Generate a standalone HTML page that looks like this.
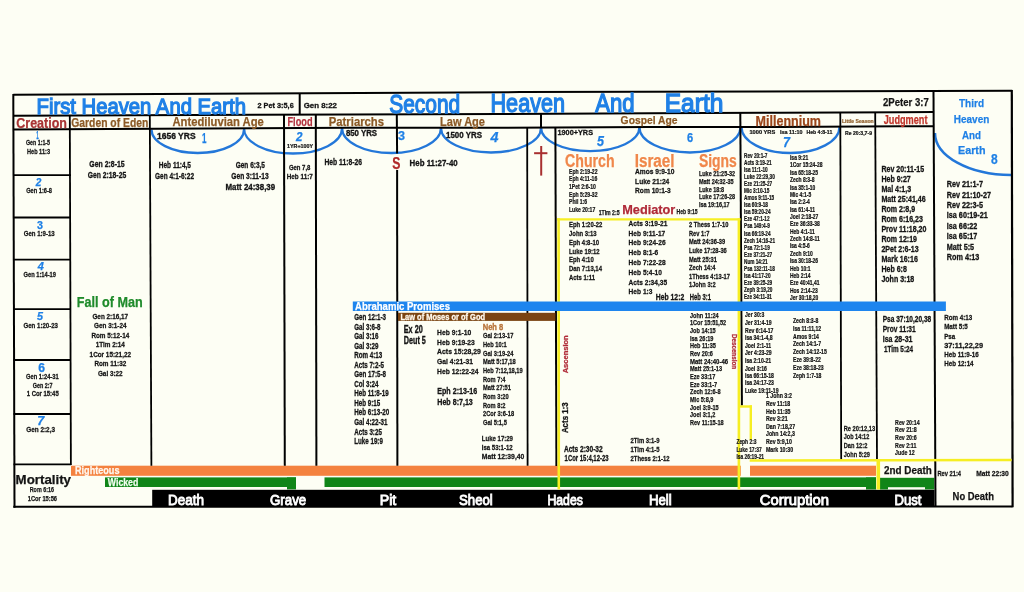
<!DOCTYPE html>
<html><head><meta charset="utf-8"><title>Heaven and Earth Chart</title>
<style>
html,body{margin:0;padding:0;background:#fdfef4;}
body{width:1024px;height:592px;overflow:hidden;}
svg{display:block;will-change:transform;}
svg text{font-family:"Liberation Sans",Arial,sans-serif;font-weight:bold;}
</style></head><body>
<svg width="1024" height="592" viewBox="0 0 1024 592">
<rect width="1024" height="592" fill="#fdfef4"/>
<rect x="71" y="465.7" width="669.8" height="10.1" fill="#f4823f"/>
<rect x="750" y="465.7" width="126" height="10.1" fill="#f4823f"/>
<rect x="105" y="477.4" width="191" height="9.6" fill="#108518"/>
<rect x="287" y="477.4" width="9" height="12" fill="#108518"/>
<rect x="324.5" y="477.4" width="551.5" height="9.6" fill="#108518"/>
<rect x="866" y="477.4" width="10" height="12.1" fill="#108518"/>
<rect x="880" y="477.8" width="54.3" height="11.7" fill="#108518"/>
<rect x="888" y="487.2" width="37" height="2.4" fill="#fdfef4"/>
<rect x="152.2" y="489.8" width="782.3" height="17.2" fill="#000"/>
<path d="M151.5,129.5 A46.25,23.5 0 0 0 244,129.5" fill="none" stroke="#2377d9" stroke-width="2.3"/>
<path d="M244,128.5 A49,25 0 0 0 342,128.5" fill="none" stroke="#2377d9" stroke-width="2.3"/>
<path d="M342,128 A49.5,25 0 0 0 441,128" fill="none" stroke="#2377d9" stroke-width="2.3"/>
<path d="M441,128 A50,24.5 0 0 0 541,128" fill="none" stroke="#2377d9" stroke-width="2.3"/>
<path d="M541,127.6 A49.2,23.6 0 0 0 639.4,127.6" fill="none" stroke="#2377d9" stroke-width="2.3"/>
<path d="M639.4,127.2 A50.55,25.3 0 0 0 740.5,127.2" fill="none" stroke="#2377d9" stroke-width="2.3"/>
<path d="M741.5,127 A49,26 0 0 0 839.5,127" fill="none" stroke="#2377d9" stroke-width="2.3"/>
<path d="M935,133 A76,42 0 0 0 1011,175" fill="none" stroke="#2377d9" stroke-width="2.5"/>
<polyline points="13.3,94.8 260,93.4 520,92.1 1012.2,90.8" fill="none" stroke="#000" stroke-width="2"/>
<line x1="13.3" y1="93.9" x2="14.5" y2="507.7" stroke="#000" stroke-width="2"/>
<line x1="1011.8" y1="89.9" x2="1012.6" y2="507.3" stroke="#000" stroke-width="2.2"/>
<line x1="13.3" y1="506.8" x2="1012.6" y2="506.5" stroke="#000" stroke-width="2"/>
<polyline points="13,115.8 350,114.4 500,114 650,113.2 780,112.8 900,112.2 934,112.1" fill="none" stroke="#000" stroke-width="2"/>
<polyline points="13,129.5 350,127.7 500,127.8 650,127 780,126.9 900,126.3 934,126.2" fill="none" stroke="#000" stroke-width="2"/>
<line x1="299.7" y1="93.4" x2="299.7" y2="114.4" stroke="#000" stroke-width="2"/>
<line x1="933.5" y1="90.8" x2="935.5" y2="507" stroke="#000" stroke-width="2"/>
<line x1="69.8" y1="115.8" x2="70.9" y2="465" stroke="#000" stroke-width="1.8"/>
<line x1="13.5" y1="175.1" x2="71" y2="175.1" stroke="#000" stroke-width="1.8"/>
<line x1="13.5" y1="217.5" x2="71" y2="217.5" stroke="#000" stroke-width="1.8"/>
<line x1="13.5" y1="259.7" x2="71" y2="259.7" stroke="#000" stroke-width="1.8"/>
<line x1="13.5" y1="309.1" x2="71" y2="309.1" stroke="#000" stroke-width="1.8"/>
<line x1="13.5" y1="360" x2="71" y2="360" stroke="#000" stroke-width="1.8"/>
<line x1="13.5" y1="414" x2="71" y2="414" stroke="#000" stroke-width="1.8"/>
<line x1="13.5" y1="464.4" x2="71" y2="464.4" stroke="#000" stroke-width="1.8"/>
<line x1="149.8" y1="115" x2="151.4" y2="465.7" stroke="#000" stroke-width="1.8"/>
<line x1="284" y1="114.4" x2="284.8" y2="465.7" stroke="#000" stroke-width="2"/>
<line x1="315.8" y1="114.4" x2="316.4" y2="465.7" stroke="#000" stroke-width="2"/>
<line x1="396.8" y1="114.2" x2="397.1" y2="153.5" stroke="#000" stroke-width="2"/>
<line x1="397.1" y1="170" x2="397.4" y2="465.7" stroke="#000" stroke-width="2"/>
<line x1="541" y1="114" x2="541" y2="127.8" stroke="#000" stroke-width="2"/>
<line x1="527.2" y1="127.8" x2="527.6" y2="465.7" stroke="#000" stroke-width="1.8"/>
<line x1="555.4" y1="127.8" x2="556.4" y2="466" stroke="#000" stroke-width="2"/>
<line x1="740.3" y1="112.8" x2="741.9" y2="405.5" stroke="#000" stroke-width="2"/>
<line x1="840.3" y1="112.5" x2="841.2" y2="459.5" stroke="#000" stroke-width="1.8"/>
<line x1="875.2" y1="112.3" x2="877" y2="459.5" stroke="#000" stroke-width="1.8"/>
<line x1="558.6" y1="218.2" x2="558.8" y2="489.5" stroke="#f6ee22" stroke-width="2.6"/>
<line x1="557" y1="219.3" x2="740.5" y2="219.3" stroke="#f6ee22" stroke-width="2.2"/>
<line x1="738.9" y1="218.2" x2="738.9" y2="489.5" stroke="#f6ee22" stroke-width="2.6"/>
<line x1="740" y1="406.5" x2="752" y2="406.5" stroke="#f6ee22" stroke-width="2.4"/>
<line x1="750.8" y1="405.3" x2="750.8" y2="440" stroke="#f6ee22" stroke-width="2.4"/>
<line x1="749.7" y1="460.6" x2="1011.6" y2="460" stroke="#f6ee22" stroke-width="2.5"/>
<line x1="878.3" y1="459" x2="878.3" y2="489.5" stroke="#f6ee22" stroke-width="3.6"/>
<rect x="352.8" y="301.5" width="593.1" height="9.5" fill="#1e85ee"/>
<rect x="398" y="312.8" width="157.4" height="8.1" fill="#7b4412"/>
<line x1="541.2" y1="146" x2="541.2" y2="175.6" stroke="#a83030" stroke-width="2"/>
<line x1="534.1" y1="153.2" x2="547.4" y2="153.2" stroke="#a83030" stroke-width="2"/>
<text x="36.5" y="113.7" font-size="22.7" fill="#1f80e6" style="font-weight:normal" stroke="#1f80e6" stroke-width="1.3" textLength="209.5" lengthAdjust="spacingAndGlyphs">First Heaven And Earth</text>
<text x="257.5" y="107.5" font-size="8.1" fill="#141414" stroke="#141414" stroke-width="0.31" textLength="36.2" lengthAdjust="spacingAndGlyphs">2 Pet 3:5,6</text>
<text x="303.7" y="107.5" font-size="8.1" fill="#141414" stroke="#141414" stroke-width="0.31" textLength="33.2" lengthAdjust="spacingAndGlyphs">Gen 8:22</text>
<text x="389.2" y="112.5" font-size="25.4" fill="#1f80e6" style="font-weight:normal" stroke="#1f80e6" stroke-width="1.3" textLength="71" lengthAdjust="spacingAndGlyphs">Second</text>
<text x="490.5" y="112" font-size="25.4" fill="#1f80e6" style="font-weight:normal" stroke="#1f80e6" stroke-width="1.3" textLength="74.5" lengthAdjust="spacingAndGlyphs">Heaven</text>
<text x="595.2" y="112" font-size="25.4" fill="#1f80e6" style="font-weight:normal" stroke="#1f80e6" stroke-width="1.3" textLength="39.5" lengthAdjust="spacingAndGlyphs">And</text>
<text x="664.8" y="112" font-size="25.4" fill="#1f80e6" style="font-weight:normal" stroke="#1f80e6" stroke-width="1.3" textLength="58.5" lengthAdjust="spacingAndGlyphs">Earth</text>
<text x="883" y="106" font-size="11.6" fill="#141414" stroke="#141414" stroke-width="0.25" textLength="45.7" lengthAdjust="spacingAndGlyphs">2Peter 3:7</text>
<text x="959" y="106.8" font-size="11.5" fill="#1f80e6" stroke="#1f80e6" stroke-width="0.25" textLength="25" lengthAdjust="spacingAndGlyphs">Third</text>
<text x="953.8" y="123.2" font-size="11.5" fill="#1f80e6" stroke="#1f80e6" stroke-width="0.25" textLength="35.5" lengthAdjust="spacingAndGlyphs">Heaven</text>
<text x="962" y="139" font-size="11.5" fill="#1f80e6" stroke="#1f80e6" stroke-width="0.25" textLength="19" lengthAdjust="spacingAndGlyphs">And</text>
<text x="958" y="154" font-size="11.5" fill="#1f80e6" stroke="#1f80e6" stroke-width="0.25" textLength="27.5" lengthAdjust="spacingAndGlyphs">Earth</text>
<text x="991" y="163.7" font-size="15" fill="#1f80e6" stroke="#1f80e6" stroke-width="0.25" textLength="6.7" lengthAdjust="spacingAndGlyphs">8</text>
<text x="16.3" y="127.5" font-size="13.8" fill="#a83434" stroke="#a83434" stroke-width="0.25" textLength="50.6" lengthAdjust="spacingAndGlyphs">Creation</text>
<text x="71.3" y="127.3" font-size="12.5" fill="#8c5a26" stroke="#8c5a26" stroke-width="0.25" textLength="77" lengthAdjust="spacingAndGlyphs">Garden of Eden</text>
<text x="172.5" y="126.3" font-size="12.5" fill="#8c5a26" stroke="#8c5a26" stroke-width="0.25" textLength="91.3" lengthAdjust="spacingAndGlyphs">Antediluvian Age</text>
<text x="287.5" y="125.6" font-size="12.5" fill="#b3303e" stroke="#b3303e" stroke-width="0.25" textLength="25" lengthAdjust="spacingAndGlyphs">Flood</text>
<text x="328.8" y="125.7" font-size="12" fill="#8c5a26" stroke="#8c5a26" stroke-width="0.25" textLength="55.2" lengthAdjust="spacingAndGlyphs">Patriarchs</text>
<text x="440" y="125.6" font-size="12" fill="#8c5a26" stroke="#8c5a26" stroke-width="0.25" textLength="45" lengthAdjust="spacingAndGlyphs">Law Age</text>
<text x="620.6" y="124.4" font-size="11.5" fill="#8c5a26" stroke="#8c5a26" stroke-width="0.25" textLength="57" lengthAdjust="spacingAndGlyphs">Gospel Age</text>
<text x="755.6" y="125.6" font-size="14.5" fill="#9c461a" stroke="#9c461a" stroke-width="0.25" textLength="65.4" lengthAdjust="spacingAndGlyphs">Millennium</text>
<text x="842" y="122.8" font-size="5.6" fill="#8c5a26" stroke="#8c5a26" stroke-width="0.21" textLength="31.7" lengthAdjust="spacingAndGlyphs">Little Season</text>
<text x="883.7" y="123.8" font-size="12.5" fill="#c0342a" stroke="#c0342a" stroke-width="0.25" textLength="43.8" lengthAdjust="spacingAndGlyphs">Judgment</text>
<text x="36.2" y="138.5" font-size="11.5" fill="#1f80e6" stroke="#1f80e6" stroke-width="0.25" textLength="2.5" lengthAdjust="spacingAndGlyphs">1</text>
<text x="157" y="138.8" font-size="9" fill="#141414" stroke="#141414" stroke-width="0.34" textLength="38.6" lengthAdjust="spacingAndGlyphs">1656 YRS</text>
<text x="202" y="143" font-size="14" fill="#1f80e6" stroke="#1f80e6" stroke-width="0.25" textLength="4.5" lengthAdjust="spacingAndGlyphs">1</text>
<text x="296" y="140.6" font-size="12.5" fill="#1f80e6" stroke="#1f80e6" stroke-width="0.25" textLength="6.5" lengthAdjust="spacingAndGlyphs" font-style="italic">2</text>
<text x="287" y="148" font-size="6" fill="#141414" stroke="#141414" stroke-width="0.23" textLength="26" lengthAdjust="spacingAndGlyphs">1YR+100Y</text>
<text x="345.9" y="136.4" font-size="8.4" fill="#141414" stroke="#141414" stroke-width="0.32" textLength="31.2" lengthAdjust="spacingAndGlyphs">850 YRS</text>
<text x="398" y="140" font-size="13" fill="#1f80e6" stroke="#1f80e6" stroke-width="0.25" textLength="7" lengthAdjust="spacingAndGlyphs">3</text>
<text x="446" y="138" font-size="8.4" fill="#141414" stroke="#141414" stroke-width="0.32" textLength="36" lengthAdjust="spacingAndGlyphs">1500 YRS</text>
<text x="490.6" y="142" font-size="15" fill="#1f80e6" stroke="#1f80e6" stroke-width="0.25" textLength="8" lengthAdjust="spacingAndGlyphs" font-style="italic">4</text>
<text x="557.5" y="135" font-size="7.2" fill="#141414" stroke="#141414" stroke-width="0.27" textLength="35.5" lengthAdjust="spacingAndGlyphs">1900+YRS</text>
<text x="597" y="146" font-size="14.5" fill="#1f80e6" stroke="#1f80e6" stroke-width="0.25" textLength="7" lengthAdjust="spacingAndGlyphs" font-style="italic">5</text>
<text x="687" y="142" font-size="13.5" fill="#1f80e6" stroke="#1f80e6" stroke-width="0.25" textLength="6.2" lengthAdjust="spacingAndGlyphs">6</text>
<text x="749.4" y="133.8" font-size="6" fill="#141414" stroke="#141414" stroke-width="0.23" textLength="25.9" lengthAdjust="spacingAndGlyphs">1000 YRS</text>
<text x="780" y="133.8" font-size="6" fill="#141414" stroke="#141414" stroke-width="0.23" textLength="22.5" lengthAdjust="spacingAndGlyphs">Isa 11:10</text>
<text x="806.4" y="133.8" font-size="6" fill="#141414" stroke="#141414" stroke-width="0.23" textLength="25.9" lengthAdjust="spacingAndGlyphs">Heb 4:8-11</text>
<text x="783" y="147" font-size="15.5" fill="#1f80e6" stroke="#1f80e6" stroke-width="0.25" textLength="7" lengthAdjust="spacingAndGlyphs" font-style="italic">7</text>
<text x="845" y="135" font-size="6.2" fill="#141414" stroke="#141414" stroke-width="0.24" textLength="27" lengthAdjust="spacingAndGlyphs">Re 20:3,7-9</text>
<text x="26" y="145.03" font-size="7.34" fill="#141414" stroke="#141414" stroke-width="0.26" textLength="24" lengthAdjust="spacingAndGlyphs">Gen 1:1-5</text>
<text x="27" y="153.53" font-size="7.34" fill="#141414" stroke="#141414" stroke-width="0.26" textLength="23" lengthAdjust="spacingAndGlyphs">Heb 11:3</text>
<text x="35.8" y="185.8" font-size="10" fill="#1f80e6" stroke="#1f80e6" stroke-width="0.25" textLength="5.6" lengthAdjust="spacingAndGlyphs" font-style="italic">2</text>
<text x="26.2" y="193.03" font-size="7.34" fill="#141414" stroke="#141414" stroke-width="0.26" textLength="25.8" lengthAdjust="spacingAndGlyphs">Gen 1:6-8</text>
<text x="37" y="228.6" font-size="11" fill="#1f80e6" stroke="#1f80e6" stroke-width="0.25" textLength="6" lengthAdjust="spacingAndGlyphs">3</text>
<text x="23.7" y="236.43" font-size="7.34" fill="#141414" stroke="#141414" stroke-width="0.26" textLength="31" lengthAdjust="spacingAndGlyphs">Gen 1:9-13</text>
<text x="37.7" y="269.6" font-size="10" fill="#1f80e6" stroke="#1f80e6" stroke-width="0.25" textLength="6.1" lengthAdjust="spacingAndGlyphs" font-style="italic">4</text>
<text x="23.5" y="277.13" font-size="7.34" fill="#141414" stroke="#141414" stroke-width="0.26" textLength="32.5" lengthAdjust="spacingAndGlyphs">Gen 1:14-19</text>
<text x="37" y="320" font-size="11" fill="#1f80e6" stroke="#1f80e6" stroke-width="0.25" textLength="6" lengthAdjust="spacingAndGlyphs" font-style="italic">5</text>
<text x="23.5" y="328.23" font-size="7.34" fill="#141414" stroke="#141414" stroke-width="0.26" textLength="34.5" lengthAdjust="spacingAndGlyphs">Gen 1:20-23</text>
<text x="38.2" y="371.7" font-size="12" fill="#1f80e6" stroke="#1f80e6" stroke-width="0.25" textLength="6.8" lengthAdjust="spacingAndGlyphs">6</text>
<text x="26" y="379.13" font-size="7.34" fill="#141414" stroke="#141414" stroke-width="0.26" textLength="32.7" lengthAdjust="spacingAndGlyphs">Gen 1:24-31</text>
<text x="32.8" y="387.63" font-size="7.34" fill="#141414" stroke="#141414" stroke-width="0.26" textLength="19.8" lengthAdjust="spacingAndGlyphs">Gen 2:7</text>
<text x="26.7" y="396.33" font-size="7.34" fill="#141414" stroke="#141414" stroke-width="0.26" textLength="32" lengthAdjust="spacingAndGlyphs">1 Cor 15:45</text>
<text x="37.2" y="425.4" font-size="13" fill="#1f80e6" stroke="#1f80e6" stroke-width="0.25" textLength="7" lengthAdjust="spacingAndGlyphs" font-style="italic">7</text>
<text x="26.2" y="432.33" font-size="7.34" fill="#141414" stroke="#141414" stroke-width="0.26" textLength="28.8" lengthAdjust="spacingAndGlyphs">Gen 2:2,3</text>
<text x="15.6" y="484" font-size="12.8" fill="#141414" stroke="#141414" stroke-width="0.25" textLength="55.4" lengthAdjust="spacingAndGlyphs">Mortality</text>
<text x="29.7" y="492.45" font-size="7.13" fill="#141414" stroke="#141414" stroke-width="0.25" textLength="24.3" lengthAdjust="spacingAndGlyphs">Rom 6:16</text>
<text x="27.8" y="501.45" font-size="7.13" fill="#141414" stroke="#141414" stroke-width="0.25" textLength="29.2" lengthAdjust="spacingAndGlyphs">1Cor 15:56</text>
<text x="89.3" y="166.97" font-size="8.64" fill="#141414" stroke="#141414" stroke-width="0.3" textLength="35.4" lengthAdjust="spacingAndGlyphs">Gen 2:8-15</text>
<text x="87.7" y="177.77" font-size="8.64" fill="#141414" stroke="#141414" stroke-width="0.3" textLength="38.5" lengthAdjust="spacingAndGlyphs">Gen 2:18-25</text>
<text x="76.8" y="306.7" font-size="14.4" fill="#1f8b2b" stroke="#1f8b2b" stroke-width="0.25" textLength="65.8" lengthAdjust="spacingAndGlyphs">Fall of Man</text>
<text x="110.3" y="318.55" font-size="7.99" fill="#141414" text-anchor="middle" stroke="#141414" stroke-width="0.28" textLength="35.73" lengthAdjust="spacingAndGlyphs">Gen 2:16,17</text>
<text x="110.3" y="328.05" font-size="7.99" fill="#141414" text-anchor="middle" stroke="#141414" stroke-width="0.28" textLength="32.54" lengthAdjust="spacingAndGlyphs">Gen 3:1-24</text>
<text x="110.3" y="337.55" font-size="7.99" fill="#141414" text-anchor="middle" stroke="#141414" stroke-width="0.28" textLength="37.85" lengthAdjust="spacingAndGlyphs">Rom 5:12-14</text>
<text x="110.3" y="346.75" font-size="7.99" fill="#141414" text-anchor="middle" stroke="#141414" stroke-width="0.28" textLength="29.24" lengthAdjust="spacingAndGlyphs">1Tim 2:14</text>
<text x="110.3" y="356.55" font-size="7.99" fill="#141414" text-anchor="middle" stroke="#141414" stroke-width="0.28" textLength="41.39" lengthAdjust="spacingAndGlyphs">1Cor 15:21,22</text>
<text x="110.3" y="366.15" font-size="7.99" fill="#141414" text-anchor="middle" stroke="#141414" stroke-width="0.28" textLength="31.84" lengthAdjust="spacingAndGlyphs">Rom 11:32</text>
<text x="110.3" y="375.55" font-size="7.99" fill="#141414" text-anchor="middle" stroke="#141414" stroke-width="0.28" textLength="24.76" lengthAdjust="spacingAndGlyphs">Gal 3:22</text>
<text x="158.8" y="168.22" font-size="8.21" fill="#141414" stroke="#141414" stroke-width="0.29" textLength="32.2" lengthAdjust="spacingAndGlyphs">Heb 11:4,5</text>
<text x="155" y="178.82" font-size="8.21" fill="#141414" stroke="#141414" stroke-width="0.29" textLength="39" lengthAdjust="spacingAndGlyphs">Gen 4:1-6:22</text>
<text x="235.7" y="168.22" font-size="8.21" fill="#141414" stroke="#141414" stroke-width="0.29" textLength="29.3" lengthAdjust="spacingAndGlyphs">Gen 6:3,5</text>
<text x="231.3" y="179.22" font-size="8.21" fill="#141414" stroke="#141414" stroke-width="0.29" textLength="37.3" lengthAdjust="spacingAndGlyphs">Gen 3:11-13</text>
<text x="225.4" y="189.8" font-size="9.29" fill="#141414" stroke="#141414" stroke-width="0.33" textLength="49.8" lengthAdjust="spacingAndGlyphs">Matt 24:38,39</text>
<text x="288.9" y="169.67" font-size="7.78" fill="#141414" stroke="#141414" stroke-width="0.27" textLength="21.5" lengthAdjust="spacingAndGlyphs">Gen 7,8</text>
<text x="286.8" y="179.37" font-size="7.78" fill="#141414" stroke="#141414" stroke-width="0.27" textLength="26" lengthAdjust="spacingAndGlyphs">Heb 11:7</text>
<text x="324.5" y="165.42" font-size="8.21" fill="#141414" stroke="#141414" stroke-width="0.29" textLength="37.5" lengthAdjust="spacingAndGlyphs">Heb 11:8-26</text>
<text x="392.2" y="169.2" font-size="17" fill="#b02a2a" stroke="#b02a2a" stroke-width="0.25" textLength="8.2" lengthAdjust="spacingAndGlyphs">S</text>
<text x="409.6" y="165.7" font-size="9.29" fill="#141414" stroke="#141414" stroke-width="0.33" textLength="48.1" lengthAdjust="spacingAndGlyphs">Heb 11:27-40</text>
<text x="565.1" y="167.2" font-size="18.5" fill="#f0874a" stroke="#f0874a" stroke-width="0.25" textLength="49.5" lengthAdjust="spacingAndGlyphs">Church</text>
<text x="634.7" y="167.3" font-size="18" fill="#f0874a" stroke="#f0874a" stroke-width="0.25" textLength="39.9" lengthAdjust="spacingAndGlyphs">Israel</text>
<text x="698.9" y="167.3" font-size="18" fill="#f0874a" stroke="#f0874a" stroke-width="0.25" textLength="37.9" lengthAdjust="spacingAndGlyphs">Signs</text>
<text x="569" y="173.79" font-size="6.37" fill="#141414" stroke="#141414" stroke-width="0.22" textLength="28.52" lengthAdjust="spacingAndGlyphs">Eph 2:19-22</text>
<text x="569" y="181.19" font-size="6.37" fill="#141414" stroke="#141414" stroke-width="0.22" textLength="28.24" lengthAdjust="spacingAndGlyphs">Eph 4:11-16</text>
<text x="569" y="188.99" font-size="6.37" fill="#141414" stroke="#141414" stroke-width="0.22" textLength="26.83" lengthAdjust="spacingAndGlyphs">1Pet 2:6-10</text>
<text x="569" y="196.59" font-size="6.37" fill="#141414" stroke="#141414" stroke-width="0.22" textLength="28.52" lengthAdjust="spacingAndGlyphs">Eph 5:29-32</text>
<text x="569" y="204.19" font-size="6.37" fill="#141414" stroke="#141414" stroke-width="0.22" textLength="18.07" lengthAdjust="spacingAndGlyphs">Phil 1:6</text>
<text x="569" y="212.09" font-size="6.37" fill="#141414" stroke="#141414" stroke-width="0.22" textLength="26.26" lengthAdjust="spacingAndGlyphs">Luke 20:17</text>
<text x="598.7" y="214.65" font-size="7.13" fill="#141414" stroke="#141414" stroke-width="0.25" textLength="20.9" lengthAdjust="spacingAndGlyphs">1Tim 2:5</text>
<text x="622.2" y="214" font-size="13.7" fill="#b02a38" stroke="#b02a38" stroke-width="0.25" textLength="53.1" lengthAdjust="spacingAndGlyphs">Mediator</text>
<text x="676.6" y="213.95" font-size="7.13" fill="#141414" stroke="#141414" stroke-width="0.25" textLength="21" lengthAdjust="spacingAndGlyphs">Heb 9:15</text>
<text x="635.1" y="174.4" font-size="7.56" fill="#141414" stroke="#141414" stroke-width="0.27" textLength="39.34" lengthAdjust="spacingAndGlyphs">Amos 9:9-10</text>
<text x="635.1" y="183.8" font-size="7.56" fill="#141414" stroke="#141414" stroke-width="0.27" textLength="34.2" lengthAdjust="spacingAndGlyphs">Luke 21:24</text>
<text x="635.1" y="192.9" font-size="7.56" fill="#141414" stroke="#141414" stroke-width="0.27" textLength="35.66" lengthAdjust="spacingAndGlyphs">Rom 10:1-3</text>
<text x="698.9" y="176.05" font-size="7.13" fill="#141414" stroke="#141414" stroke-width="0.25" textLength="36.22" lengthAdjust="spacingAndGlyphs">Luke 21:25-32</text>
<text x="698.9" y="183.95" font-size="7.13" fill="#141414" stroke="#141414" stroke-width="0.25" textLength="34.69" lengthAdjust="spacingAndGlyphs">Matt 24:32-35</text>
<text x="698.9" y="191.75" font-size="7.13" fill="#141414" stroke="#141414" stroke-width="0.25" textLength="25.26" lengthAdjust="spacingAndGlyphs">Luke 18:8</text>
<text x="698.9" y="199.45" font-size="7.13" fill="#141414" stroke="#141414" stroke-width="0.25" textLength="36.22" lengthAdjust="spacingAndGlyphs">Luke 17:26-28</text>
<text x="698.9" y="207.35" font-size="7.13" fill="#141414" stroke="#141414" stroke-width="0.25" textLength="30.75" lengthAdjust="spacingAndGlyphs">Isa 19:16,17</text>
<text x="569" y="227.13" font-size="7.34" fill="#141414" stroke="#141414" stroke-width="0.26" textLength="33.27" lengthAdjust="spacingAndGlyphs">Eph 1:20-22</text>
<text x="569" y="235.93" font-size="7.34" fill="#141414" stroke="#141414" stroke-width="0.26" textLength="27.66" lengthAdjust="spacingAndGlyphs">John 3:13</text>
<text x="569" y="244.83" font-size="7.34" fill="#141414" stroke="#141414" stroke-width="0.26" textLength="29.97" lengthAdjust="spacingAndGlyphs">Eph 4:8-10</text>
<text x="569" y="253.73" font-size="7.34" fill="#141414" stroke="#141414" stroke-width="0.26" textLength="30.64" lengthAdjust="spacingAndGlyphs">Luke 19:12</text>
<text x="569" y="262.33" font-size="7.34" fill="#141414" stroke="#141414" stroke-width="0.26" textLength="24.7" lengthAdjust="spacingAndGlyphs">Eph 4:10</text>
<text x="569" y="271.23" font-size="7.34" fill="#141414" stroke="#141414" stroke-width="0.26" textLength="32.94" lengthAdjust="spacingAndGlyphs">Dan 7:13,14</text>
<text x="569" y="280.13" font-size="7.34" fill="#141414" stroke="#141414" stroke-width="0.26" textLength="26.03" lengthAdjust="spacingAndGlyphs">Acts 1:11</text>
<text x="628.6" y="225.86" font-size="7.45" fill="#141414" stroke="#141414" stroke-width="0.26" textLength="38.85" lengthAdjust="spacingAndGlyphs">Acts 3:19-21</text>
<text x="628.6" y="235.56" font-size="7.45" fill="#141414" stroke="#141414" stroke-width="0.26" textLength="36.65" lengthAdjust="spacingAndGlyphs">Heb 9:11-17</text>
<text x="628.6" y="245.06" font-size="7.45" fill="#141414" stroke="#141414" stroke-width="0.26" textLength="37.01" lengthAdjust="spacingAndGlyphs">Heb 9:24-26</text>
<text x="628.6" y="254.76" font-size="7.45" fill="#141414" stroke="#141414" stroke-width="0.26" textLength="29.68" lengthAdjust="spacingAndGlyphs">Heb 8:1-6</text>
<text x="628.6" y="264.76" font-size="7.45" fill="#141414" stroke="#141414" stroke-width="0.26" textLength="37.01" lengthAdjust="spacingAndGlyphs">Heb 7:22-28</text>
<text x="628.6" y="274.86" font-size="7.45" fill="#141414" stroke="#141414" stroke-width="0.26" textLength="33.35" lengthAdjust="spacingAndGlyphs">Heb 5:4-10</text>
<text x="628.6" y="284.56" font-size="7.45" fill="#141414" stroke="#141414" stroke-width="0.26" textLength="38.48" lengthAdjust="spacingAndGlyphs">Acts 2:34,35</text>
<text x="628.6" y="293.96" font-size="7.45" fill="#141414" stroke="#141414" stroke-width="0.26" textLength="23.82" lengthAdjust="spacingAndGlyphs">Heb 1:3</text>
<text x="689" y="227.03" font-size="7.34" fill="#141414" stroke="#141414" stroke-width="0.26" textLength="39.37" lengthAdjust="spacingAndGlyphs">2 Thess 1:7-10</text>
<text x="689" y="235.53" font-size="7.34" fill="#141414" stroke="#141414" stroke-width="0.26" textLength="20.32" lengthAdjust="spacingAndGlyphs">Rev 1:7</text>
<text x="689" y="244.23" font-size="7.34" fill="#141414" stroke="#141414" stroke-width="0.26" textLength="36.19" lengthAdjust="spacingAndGlyphs">Matt 24:36-39</text>
<text x="689" y="252.93" font-size="7.34" fill="#141414" stroke="#141414" stroke-width="0.26" textLength="37.78" lengthAdjust="spacingAndGlyphs">Luke 17:28-36</text>
<text x="689" y="261.53" font-size="7.34" fill="#141414" stroke="#141414" stroke-width="0.26" textLength="27.94" lengthAdjust="spacingAndGlyphs">Matt 25:31</text>
<text x="689" y="270.13" font-size="7.34" fill="#141414" stroke="#141414" stroke-width="0.26" textLength="26.35" lengthAdjust="spacingAndGlyphs">Zech 14:4</text>
<text x="689" y="278.53" font-size="7.34" fill="#141414" stroke="#141414" stroke-width="0.26" textLength="40.96" lengthAdjust="spacingAndGlyphs">1Thess 4:13-17</text>
<text x="689" y="286.93" font-size="7.34" fill="#141414" stroke="#141414" stroke-width="0.26" textLength="26.66" lengthAdjust="spacingAndGlyphs">1John 3:2</text>
<text x="655.8" y="299.92" font-size="8.21" fill="#141414" stroke="#141414" stroke-width="0.29" textLength="28.4" lengthAdjust="spacingAndGlyphs">Heb 12:2</text>
<text x="689.8" y="299.82" font-size="8.21" fill="#141414" stroke="#141414" stroke-width="0.29" textLength="21.1" lengthAdjust="spacingAndGlyphs">Heb 3:1</text>
<text x="355" y="310.2" font-size="10.6" fill="#ffffff" stroke="#ffffff" stroke-width="0.25" textLength="95" lengthAdjust="spacingAndGlyphs">Abrahamic Promises</text>
<text x="400.5" y="319.5" font-size="8.2" fill="#fff8ec" stroke="#fff8ec" stroke-width="0.31" textLength="84.5" lengthAdjust="spacingAndGlyphs">Law of Moses or of God</text>
<text x="354.2" y="320.12" font-size="8.21" fill="#141414" stroke="#141414" stroke-width="0.29" textLength="31.83" lengthAdjust="spacingAndGlyphs">Gen 12:1-3</text>
<text x="354.2" y="329.62" font-size="8.21" fill="#141414" stroke="#141414" stroke-width="0.29" textLength="26.29" lengthAdjust="spacingAndGlyphs">Gal 3:6-8</text>
<text x="354.2" y="339.02" font-size="8.21" fill="#141414" stroke="#141414" stroke-width="0.29" textLength="24.22" lengthAdjust="spacingAndGlyphs">Gal 3:16</text>
<text x="354.2" y="348.52" font-size="8.21" fill="#141414" stroke="#141414" stroke-width="0.29" textLength="24.22" lengthAdjust="spacingAndGlyphs">Gal 3:29</text>
<text x="354.2" y="357.92" font-size="8.21" fill="#141414" stroke="#141414" stroke-width="0.29" textLength="28.02" lengthAdjust="spacingAndGlyphs">Rom 4:13</text>
<text x="354.2" y="367.82" font-size="8.21" fill="#141414" stroke="#141414" stroke-width="0.29" textLength="29.75" lengthAdjust="spacingAndGlyphs">Acts 7:2-5</text>
<text x="354.2" y="377.32" font-size="8.21" fill="#141414" stroke="#141414" stroke-width="0.29" textLength="31.83" lengthAdjust="spacingAndGlyphs">Gen 17:5-8</text>
<text x="354.2" y="386.72" font-size="8.21" fill="#141414" stroke="#141414" stroke-width="0.29" textLength="24.21" lengthAdjust="spacingAndGlyphs">Col 3:24</text>
<text x="354.2" y="396.22" font-size="8.21" fill="#141414" stroke="#141414" stroke-width="0.29" textLength="34.6" lengthAdjust="spacingAndGlyphs">Heb 11:8-19</text>
<text x="354.2" y="405.62" font-size="8.21" fill="#141414" stroke="#141414" stroke-width="0.29" textLength="25.95" lengthAdjust="spacingAndGlyphs">Heb 9:15</text>
<text x="354.2" y="415.42" font-size="8.21" fill="#141414" stroke="#141414" stroke-width="0.29" textLength="34.94" lengthAdjust="spacingAndGlyphs">Heb 6:13-20</text>
<text x="354.2" y="424.82" font-size="8.21" fill="#141414" stroke="#141414" stroke-width="0.29" textLength="33.22" lengthAdjust="spacingAndGlyphs">Gal 4:22-31</text>
<text x="354.2" y="434.62" font-size="8.21" fill="#141414" stroke="#141414" stroke-width="0.29" textLength="27.68" lengthAdjust="spacingAndGlyphs">Acts 3:25</text>
<text x="354.2" y="444.02" font-size="8.21" fill="#141414" stroke="#141414" stroke-width="0.29" textLength="28.72" lengthAdjust="spacingAndGlyphs">Luke 19:9</text>
<text x="403.8" y="333.39" font-size="10.15" fill="#141414" stroke="#141414" stroke-width="0.36" textLength="18.9" lengthAdjust="spacingAndGlyphs">Ex 20</text>
<text x="403.8" y="344.49" font-size="10.15" fill="#141414" stroke="#141414" stroke-width="0.36" textLength="22" lengthAdjust="spacingAndGlyphs">Deut 5</text>
<text x="437.1" y="334.67" font-size="7.78" fill="#141414" stroke="#141414" stroke-width="0.27" textLength="34.03" lengthAdjust="spacingAndGlyphs">Heb 9:1-10</text>
<text x="437.1" y="344.57" font-size="7.78" fill="#141414" stroke="#141414" stroke-width="0.27" textLength="37.77" lengthAdjust="spacingAndGlyphs">Heb 9:19-23</text>
<text x="437.1" y="354.47" font-size="7.78" fill="#141414" stroke="#141414" stroke-width="0.27" textLength="43.8" lengthAdjust="spacingAndGlyphs">Acts 15:28,29</text>
<text x="437.1" y="364.17" font-size="7.78" fill="#141414" stroke="#141414" stroke-width="0.27" textLength="35.91" lengthAdjust="spacingAndGlyphs">Gal 4:21-31</text>
<text x="437.1" y="374.47" font-size="7.78" fill="#141414" stroke="#141414" stroke-width="0.27" textLength="41.52" lengthAdjust="spacingAndGlyphs">Heb 12:22-24</text>
<text x="437.3" y="393.92" font-size="8.21" fill="#141414" stroke="#141414" stroke-width="0.29" textLength="39.87" lengthAdjust="spacingAndGlyphs">Eph 2:13-16</text>
<text x="437.3" y="404.82" font-size="8.21" fill="#141414" stroke="#141414" stroke-width="0.29" textLength="35.53" lengthAdjust="spacingAndGlyphs">Heb 8:7,13</text>
<text x="482.7" y="329.9" font-size="9.4" fill="#b8743a" stroke="#b8743a" stroke-width="0.36" textLength="20.5" lengthAdjust="spacingAndGlyphs">Neh 8</text>
<text x="483" y="338.33" font-size="7.34" fill="#141414" stroke="#141414" stroke-width="0.26" textLength="30.48" lengthAdjust="spacingAndGlyphs">Gal 2:13-17</text>
<text x="483" y="347.23" font-size="7.34" fill="#141414" stroke="#141414" stroke-width="0.26" textLength="23.81" lengthAdjust="spacingAndGlyphs">Heb 10:1</text>
<text x="483" y="355.73" font-size="7.34" fill="#141414" stroke="#141414" stroke-width="0.26" textLength="30.48" lengthAdjust="spacingAndGlyphs">Gal 3:19-24</text>
<text x="483" y="364.33" font-size="7.34" fill="#141414" stroke="#141414" stroke-width="0.26" textLength="32.7" lengthAdjust="spacingAndGlyphs">Matt 5:17,18</text>
<text x="483" y="373.23" font-size="7.34" fill="#141414" stroke="#141414" stroke-width="0.26" textLength="39.69" lengthAdjust="spacingAndGlyphs">Heb 7:12,18,19</text>
<text x="483" y="381.83" font-size="7.34" fill="#141414" stroke="#141414" stroke-width="0.26" textLength="22.54" lengthAdjust="spacingAndGlyphs">Rom 7:4</text>
<text x="483" y="390.33" font-size="7.34" fill="#141414" stroke="#141414" stroke-width="0.26" textLength="27.94" lengthAdjust="spacingAndGlyphs">Matt 27:51</text>
<text x="483" y="398.83" font-size="7.34" fill="#141414" stroke="#141414" stroke-width="0.26" textLength="25.71" lengthAdjust="spacingAndGlyphs">Rom 3:20</text>
<text x="483" y="407.53" font-size="7.34" fill="#141414" stroke="#141414" stroke-width="0.26" textLength="22.54" lengthAdjust="spacingAndGlyphs">Rom 8:2</text>
<text x="483" y="416.33" font-size="7.34" fill="#141414" stroke="#141414" stroke-width="0.26" textLength="31.11" lengthAdjust="spacingAndGlyphs">2Cor 3:6-18</text>
<text x="483" y="425.23" font-size="7.34" fill="#141414" stroke="#141414" stroke-width="0.26" textLength="23.81" lengthAdjust="spacingAndGlyphs">Gal 5:1,5</text>
<text x="481.8" y="441" font-size="7.56" fill="#141414" stroke="#141414" stroke-width="0.27" textLength="31.16" lengthAdjust="spacingAndGlyphs">Luke 17:29</text>
<text x="481.8" y="450.2" font-size="7.56" fill="#141414" stroke="#141414" stroke-width="0.27" textLength="30.83" lengthAdjust="spacingAndGlyphs">Isa 53:1-12</text>
<text x="481.8" y="459.1" font-size="7.56" fill="#141414" stroke="#141414" stroke-width="0.27" textLength="42.5" lengthAdjust="spacingAndGlyphs">Matt 12:39,40</text>
<text transform="translate(567.6,373.3) rotate(-90)" font-size="6.6" fill="#b02a38" stroke="#b02a38" stroke-width="0.25" textLength="38" lengthAdjust="spacingAndGlyphs">Ascension</text>
<text transform="translate(568.3,433.1) rotate(-90)" font-size="9" fill="#141414" stroke="#141414" stroke-width="0.3" textLength="30.8" lengthAdjust="spacingAndGlyphs">Acts 1:3</text>
<text x="563.9" y="452.32" font-size="8.21" fill="#141414" stroke="#141414" stroke-width="0.29" textLength="38.8" lengthAdjust="spacingAndGlyphs">Acts 2:30-32</text>
<text x="564.6" y="461.12" font-size="8.21" fill="#141414" stroke="#141414" stroke-width="0.29" textLength="44" lengthAdjust="spacingAndGlyphs">1Cor 15:4,12-23</text>
<text x="630.5" y="442.77" font-size="7.78" fill="#141414" stroke="#141414" stroke-width="0.27" textLength="29.06" lengthAdjust="spacingAndGlyphs">2Tim 3:1-9</text>
<text x="630.5" y="451.87" font-size="7.78" fill="#141414" stroke="#141414" stroke-width="0.27" textLength="29.06" lengthAdjust="spacingAndGlyphs">1Tim 4:1-5</text>
<text x="630.5" y="460.67" font-size="7.78" fill="#141414" stroke="#141414" stroke-width="0.27" textLength="39.01" lengthAdjust="spacingAndGlyphs">2Thess 2:1-12</text>
<text x="690" y="317.55" font-size="7.13" fill="#141414" stroke="#141414" stroke-width="0.25" textLength="28.66" lengthAdjust="spacingAndGlyphs">John 11:24</text>
<text x="690" y="325.25" font-size="7.13" fill="#141414" stroke="#141414" stroke-width="0.25" textLength="36.06" lengthAdjust="spacingAndGlyphs">1Cor 15:51,52</text>
<text x="690" y="332.85" font-size="7.13" fill="#141414" stroke="#141414" stroke-width="0.25" textLength="25.58" lengthAdjust="spacingAndGlyphs">Job 14:15</text>
<text x="690" y="340.55" font-size="7.13" fill="#141414" stroke="#141414" stroke-width="0.25" textLength="23.43" lengthAdjust="spacingAndGlyphs">Isa 26:19</text>
<text x="690" y="348.25" font-size="7.13" fill="#141414" stroke="#141414" stroke-width="0.25" textLength="25.89" lengthAdjust="spacingAndGlyphs">Heb 11:35</text>
<text x="690" y="355.85" font-size="7.13" fill="#141414" stroke="#141414" stroke-width="0.25" textLength="22.81" lengthAdjust="spacingAndGlyphs">Rev 20:6</text>
<text x="690" y="363.55" font-size="7.13" fill="#141414" stroke="#141414" stroke-width="0.25" textLength="38.1" lengthAdjust="spacingAndGlyphs">Matt 24:40-46</text>
<text x="690" y="371.25" font-size="7.13" fill="#141414" stroke="#141414" stroke-width="0.25" textLength="32.04" lengthAdjust="spacingAndGlyphs">Matt 25:1-13</text>
<text x="690" y="379.45" font-size="7.13" fill="#141414" stroke="#141414" stroke-width="0.25" textLength="25.27" lengthAdjust="spacingAndGlyphs">Eze 33:17</text>
<text x="690" y="386.95" font-size="7.13" fill="#141414" stroke="#141414" stroke-width="0.25" textLength="27.12" lengthAdjust="spacingAndGlyphs">Eze 33:1-7</text>
<text x="690" y="394.35" font-size="7.13" fill="#141414" stroke="#141414" stroke-width="0.25" textLength="30.51" lengthAdjust="spacingAndGlyphs">Zech 12:6-8</text>
<text x="690" y="402.15" font-size="7.13" fill="#141414" stroke="#141414" stroke-width="0.25" textLength="23.42" lengthAdjust="spacingAndGlyphs">Mic 5:8,9</text>
<text x="690" y="409.85" font-size="7.13" fill="#141414" stroke="#141414" stroke-width="0.25" textLength="28.66" lengthAdjust="spacingAndGlyphs">Joel 3:9-15</text>
<text x="690" y="417.35" font-size="7.13" fill="#141414" stroke="#141414" stroke-width="0.25" textLength="25.27" lengthAdjust="spacingAndGlyphs">Joel 3:1,2</text>
<text x="690" y="425.05" font-size="7.13" fill="#141414" stroke="#141414" stroke-width="0.25" textLength="33.6" lengthAdjust="spacingAndGlyphs">Rev 11:15-18</text>
<text transform="translate(731.8,334) rotate(90)" font-size="6.6" fill="#b02a38" stroke="#b02a38" stroke-width="0.25" textLength="35" lengthAdjust="spacingAndGlyphs">Descension</text>
<text x="744" y="158" font-size="6.7" fill="#141414" stroke="#141414" stroke-width="0.24" textLength="23.45" lengthAdjust="spacingAndGlyphs">Rev 20:1-7</text>
<text x="744" y="165.2" font-size="6.7" fill="#141414" stroke="#141414" stroke-width="0.24" textLength="27.62" lengthAdjust="spacingAndGlyphs">Acts 3:19-21</text>
<text x="744" y="171.9" font-size="6.7" fill="#141414" stroke="#141414" stroke-width="0.24" textLength="23.72" lengthAdjust="spacingAndGlyphs">Isa 11:1-10</text>
<text x="744" y="179.1" font-size="6.7" fill="#141414" stroke="#141414" stroke-width="0.24" textLength="30.75" lengthAdjust="spacingAndGlyphs">Luke 22:29,30</text>
<text x="744" y="186.1" font-size="6.7" fill="#141414" stroke="#141414" stroke-width="0.24" textLength="28.14" lengthAdjust="spacingAndGlyphs">Eze 21:25-27</text>
<text x="744" y="193.3" font-size="6.7" fill="#141414" stroke="#141414" stroke-width="0.24" textLength="25.27" lengthAdjust="spacingAndGlyphs">Mic 3:10-15</text>
<text x="744" y="200.3" font-size="6.7" fill="#141414" stroke="#141414" stroke-width="0.24" textLength="30.22" lengthAdjust="spacingAndGlyphs">Amos 9:11-15</text>
<text x="744" y="207.1" font-size="6.7" fill="#141414" stroke="#141414" stroke-width="0.24" textLength="23.97" lengthAdjust="spacingAndGlyphs">Isa 60:9-18</text>
<text x="744" y="214.1" font-size="6.7" fill="#141414" stroke="#141414" stroke-width="0.24" textLength="26.58" lengthAdjust="spacingAndGlyphs">Isa 59:20-24</text>
<text x="744" y="221.2" font-size="6.7" fill="#141414" stroke="#141414" stroke-width="0.24" textLength="25.54" lengthAdjust="spacingAndGlyphs">Eze 47:1-12</text>
<text x="744" y="228.4" font-size="6.7" fill="#141414" stroke="#141414" stroke-width="0.24" textLength="25.8" lengthAdjust="spacingAndGlyphs">Psa 149:4-9</text>
<text x="744" y="235.5" font-size="6.7" fill="#141414" stroke="#141414" stroke-width="0.24" textLength="26.58" lengthAdjust="spacingAndGlyphs">Isa 66:19-24</text>
<text x="744" y="242.6" font-size="6.7" fill="#141414" stroke="#141414" stroke-width="0.24" textLength="31.01" lengthAdjust="spacingAndGlyphs">Zech 14:16-21</text>
<text x="744" y="249.7" font-size="6.7" fill="#141414" stroke="#141414" stroke-width="0.24" textLength="25.8" lengthAdjust="spacingAndGlyphs">Psa 72:1-19</text>
<text x="744" y="256.8" font-size="6.7" fill="#141414" stroke="#141414" stroke-width="0.24" textLength="28.14" lengthAdjust="spacingAndGlyphs">Eze 37:21-27</text>
<text x="744" y="263.9" font-size="6.7" fill="#141414" stroke="#141414" stroke-width="0.24" textLength="23.71" lengthAdjust="spacingAndGlyphs">Num 14:21</text>
<text x="744" y="270.9" font-size="6.7" fill="#141414" stroke="#141414" stroke-width="0.24" textLength="30.75" lengthAdjust="spacingAndGlyphs">Psa 132:11-18</text>
<text x="744" y="277.7" font-size="6.7" fill="#141414" stroke="#141414" stroke-width="0.24" textLength="26.58" lengthAdjust="spacingAndGlyphs">Isa 41:17-20</text>
<text x="744" y="284.7" font-size="6.7" fill="#141414" stroke="#141414" stroke-width="0.24" textLength="28.14" lengthAdjust="spacingAndGlyphs">Eze 39:25-29</text>
<text x="744" y="292.3" font-size="6.7" fill="#141414" stroke="#141414" stroke-width="0.24" textLength="28.4" lengthAdjust="spacingAndGlyphs">Zeph 3:19,20</text>
<text x="744" y="299.3" font-size="6.7" fill="#141414" stroke="#141414" stroke-width="0.24" textLength="27.88" lengthAdjust="spacingAndGlyphs">Eze 34:11-31</text>
<text x="790" y="160" font-size="6.7" fill="#141414" stroke="#141414" stroke-width="0.24" textLength="18.16" lengthAdjust="spacingAndGlyphs">Isa 9:21</text>
<text x="790" y="167.2" font-size="6.7" fill="#141414" stroke="#141414" stroke-width="0.24" textLength="32.45" lengthAdjust="spacingAndGlyphs">1Cor 15:24-28</text>
<text x="790" y="174.6" font-size="6.7" fill="#141414" stroke="#141414" stroke-width="0.24" textLength="28.06" lengthAdjust="spacingAndGlyphs">Isa 65:18-25</text>
<text x="790" y="182.1" font-size="6.7" fill="#141414" stroke="#141414" stroke-width="0.24" textLength="24.47" lengthAdjust="spacingAndGlyphs">Zech 8:3-8</text>
<text x="790" y="189.5" font-size="6.7" fill="#141414" stroke="#141414" stroke-width="0.24" textLength="25.31" lengthAdjust="spacingAndGlyphs">Isa 35:1-10</text>
<text x="790" y="196.9" font-size="6.7" fill="#141414" stroke="#141414" stroke-width="0.24" textLength="21.17" lengthAdjust="spacingAndGlyphs">Mic 4:1-5</text>
<text x="790" y="204.1" font-size="6.7" fill="#141414" stroke="#141414" stroke-width="0.24" textLength="19.8" lengthAdjust="spacingAndGlyphs">Isa 2:2-4</text>
<text x="790" y="211.8" font-size="6.7" fill="#141414" stroke="#141414" stroke-width="0.24" textLength="25.03" lengthAdjust="spacingAndGlyphs">Isa 61:4-11</text>
<text x="790" y="219.2" font-size="6.7" fill="#141414" stroke="#141414" stroke-width="0.24" textLength="28.33" lengthAdjust="spacingAndGlyphs">Joel 2:18-27</text>
<text x="790" y="226.3" font-size="6.7" fill="#141414" stroke="#141414" stroke-width="0.24" textLength="29.71" lengthAdjust="spacingAndGlyphs">Eze 36:33-38</text>
<text x="790" y="233.8" font-size="6.7" fill="#141414" stroke="#141414" stroke-width="0.24" textLength="24.75" lengthAdjust="spacingAndGlyphs">Heb 4:1-11</text>
<text x="790" y="241.2" font-size="6.7" fill="#141414" stroke="#141414" stroke-width="0.24" textLength="29.7" lengthAdjust="spacingAndGlyphs">Zech 14:8-11</text>
<text x="790" y="248.3" font-size="6.7" fill="#141414" stroke="#141414" stroke-width="0.24" textLength="19.8" lengthAdjust="spacingAndGlyphs">Isa 4:5-6</text>
<text x="790" y="255.8" font-size="6.7" fill="#141414" stroke="#141414" stroke-width="0.24" textLength="22.83" lengthAdjust="spacingAndGlyphs">Zech 9:10</text>
<text x="790" y="263.1" font-size="6.7" fill="#141414" stroke="#141414" stroke-width="0.24" textLength="28.06" lengthAdjust="spacingAndGlyphs">Isa 30:18-26</text>
<text x="790" y="270.5" font-size="6.7" fill="#141414" stroke="#141414" stroke-width="0.24" textLength="20.62" lengthAdjust="spacingAndGlyphs">Heb 10:1</text>
<text x="790" y="277.7" font-size="6.7" fill="#141414" stroke="#141414" stroke-width="0.24" textLength="20.62" lengthAdjust="spacingAndGlyphs">Heb 2:14</text>
<text x="790" y="285.1" font-size="6.7" fill="#141414" stroke="#141414" stroke-width="0.24" textLength="29.43" lengthAdjust="spacingAndGlyphs">Eze 40:41,41</text>
<text x="790" y="292.6" font-size="6.7" fill="#141414" stroke="#141414" stroke-width="0.24" textLength="27.78" lengthAdjust="spacingAndGlyphs">Hos 2:14-23</text>
<text x="790" y="299.7" font-size="6.7" fill="#141414" stroke="#141414" stroke-width="0.24" textLength="28.34" lengthAdjust="spacingAndGlyphs">Jer 30:18,20</text>
<text x="745" y="317.28" font-size="6.91" fill="#141414" stroke="#141414" stroke-width="0.24" textLength="19.31" lengthAdjust="spacingAndGlyphs">Jer 30:3</text>
<text x="745" y="324.88" font-size="6.91" fill="#141414" stroke="#141414" stroke-width="0.24" textLength="26.69" lengthAdjust="spacingAndGlyphs">Jer 31:4-19</text>
<text x="745" y="332.68" font-size="6.91" fill="#141414" stroke="#141414" stroke-width="0.24" textLength="28.39" lengthAdjust="spacingAndGlyphs">Rev 6:14-17</text>
<text x="745" y="339.78" font-size="6.91" fill="#141414" stroke="#141414" stroke-width="0.24" textLength="27.54" lengthAdjust="spacingAndGlyphs">Isa 34:1-4,8</text>
<text x="745" y="347.68" font-size="6.91" fill="#141414" stroke="#141414" stroke-width="0.24" textLength="26.12" lengthAdjust="spacingAndGlyphs">Joel 2:1-11</text>
<text x="745" y="355.28" font-size="6.91" fill="#141414" stroke="#141414" stroke-width="0.24" textLength="26.69" lengthAdjust="spacingAndGlyphs">Jer 4:23-29</text>
<text x="745" y="362.88" font-size="6.91" fill="#141414" stroke="#141414" stroke-width="0.24" textLength="26.12" lengthAdjust="spacingAndGlyphs">Isa 2:10-21</text>
<text x="745" y="370.68" font-size="6.91" fill="#141414" stroke="#141414" stroke-width="0.24" textLength="21.86" lengthAdjust="spacingAndGlyphs">Joel 3:16</text>
<text x="745" y="377.78" font-size="6.91" fill="#141414" stroke="#141414" stroke-width="0.24" textLength="28.96" lengthAdjust="spacingAndGlyphs">Isa 66:15-18</text>
<text x="745" y="385.38" font-size="6.91" fill="#141414" stroke="#141414" stroke-width="0.24" textLength="28.96" lengthAdjust="spacingAndGlyphs">Isa 24:17-23</text>
<text x="745" y="392.98" font-size="6.91" fill="#141414" stroke="#141414" stroke-width="0.24" textLength="33.5" lengthAdjust="spacingAndGlyphs">Luke 19:11-19</text>
<text x="793" y="322.88" font-size="6.91" fill="#141414" stroke="#141414" stroke-width="0.24" textLength="25.26" lengthAdjust="spacingAndGlyphs">Zech 8:3-8</text>
<text x="793" y="330.78" font-size="6.91" fill="#141414" stroke="#141414" stroke-width="0.24" textLength="28.12" lengthAdjust="spacingAndGlyphs">Isa 11:11,12</text>
<text x="793" y="338.58" font-size="6.91" fill="#141414" stroke="#141414" stroke-width="0.24" textLength="25.83" lengthAdjust="spacingAndGlyphs">Amos 9:14</text>
<text x="793" y="346.48" font-size="6.91" fill="#141414" stroke="#141414" stroke-width="0.24" textLength="28.1" lengthAdjust="spacingAndGlyphs">Zech 14:1-7</text>
<text x="793" y="354.08" font-size="6.91" fill="#141414" stroke="#141414" stroke-width="0.24" textLength="33.78" lengthAdjust="spacingAndGlyphs">Zech 14:12-15</text>
<text x="793" y="362.08" font-size="6.91" fill="#141414" stroke="#141414" stroke-width="0.24" textLength="27.82" lengthAdjust="spacingAndGlyphs">Eze 39:8-22</text>
<text x="793" y="369.88" font-size="6.91" fill="#141414" stroke="#141414" stroke-width="0.24" textLength="30.66" lengthAdjust="spacingAndGlyphs">Eze 38:18-23</text>
<text x="793" y="377.78" font-size="6.91" fill="#141414" stroke="#141414" stroke-width="0.24" textLength="28.38" lengthAdjust="spacingAndGlyphs">Zeph 1:7-18</text>
<text x="766" y="398.38" font-size="6.91" fill="#141414" stroke="#141414" stroke-width="0.24" textLength="25.92" lengthAdjust="spacingAndGlyphs">1 John 3:2</text>
<text x="766" y="405.78" font-size="6.91" fill="#141414" stroke="#141414" stroke-width="0.24" textLength="24.19" lengthAdjust="spacingAndGlyphs">Rev 11:18</text>
<text x="766" y="413.58" font-size="6.91" fill="#141414" stroke="#141414" stroke-width="0.24" textLength="24.48" lengthAdjust="spacingAndGlyphs">Heb 11:35</text>
<text x="766" y="421.18" font-size="6.91" fill="#141414" stroke="#141414" stroke-width="0.24" textLength="21.56" lengthAdjust="spacingAndGlyphs">Rev 3:21</text>
<text x="766" y="428.78" font-size="6.91" fill="#141414" stroke="#141414" stroke-width="0.24" textLength="29.14" lengthAdjust="spacingAndGlyphs">Dan 7:18,27</text>
<text x="766" y="436.38" font-size="6.91" fill="#141414" stroke="#141414" stroke-width="0.24" textLength="28.84" lengthAdjust="spacingAndGlyphs">John 14:2,3</text>
<text x="766" y="443.98" font-size="6.91" fill="#141414" stroke="#141414" stroke-width="0.24" textLength="25.93" lengthAdjust="spacingAndGlyphs">Rev 5:9,10</text>
<text x="766" y="451.58" font-size="6.91" fill="#141414" stroke="#141414" stroke-width="0.24" textLength="27.1" lengthAdjust="spacingAndGlyphs">Mark 10:30</text>
<text x="736.4" y="443.9" font-size="6.7" fill="#141414" stroke="#141414" stroke-width="0.24" textLength="20.08" lengthAdjust="spacingAndGlyphs">Zeph 2:3</text>
<text x="736.4" y="451.5" font-size="6.7" fill="#141414" stroke="#141414" stroke-width="0.24" textLength="25.24" lengthAdjust="spacingAndGlyphs">Luke 17:37</text>
<text x="736.4" y="459.1" font-size="6.7" fill="#141414" stroke="#141414" stroke-width="0.24" textLength="27.69" lengthAdjust="spacingAndGlyphs">Isa 26:19-21</text>
<text x="843.7" y="430.63" font-size="7.34" fill="#141414" stroke="#141414" stroke-width="0.26" textLength="31.5" lengthAdjust="spacingAndGlyphs">Re 20:12,13</text>
<text x="843.7" y="439.23" font-size="7.34" fill="#141414" stroke="#141414" stroke-width="0.26" textLength="25.6" lengthAdjust="spacingAndGlyphs">Job 14:12</text>
<text x="843.7" y="447.83" font-size="7.34" fill="#141414" stroke="#141414" stroke-width="0.26" textLength="23.6" lengthAdjust="spacingAndGlyphs">Dan 12:2</text>
<text x="843.7" y="456.53" font-size="7.34" fill="#141414" stroke="#141414" stroke-width="0.26" textLength="26.2" lengthAdjust="spacingAndGlyphs">John 5:29</text>
<text x="881.4" y="171.8" font-size="8.42" fill="#141414" stroke="#141414" stroke-width="0.3" textLength="42.69" lengthAdjust="spacingAndGlyphs">Rev 20:11-15</text>
<text x="881.4" y="181.9" font-size="8.42" fill="#141414" stroke="#141414" stroke-width="0.3" textLength="29.36" lengthAdjust="spacingAndGlyphs">Heb 9:27</text>
<text x="881.4" y="192.1" font-size="8.42" fill="#141414" stroke="#141414" stroke-width="0.3" textLength="29.75" lengthAdjust="spacingAndGlyphs">Mal 4:1,3</text>
<text x="881.4" y="202.2" font-size="8.42" fill="#141414" stroke="#141414" stroke-width="0.3" textLength="44.24" lengthAdjust="spacingAndGlyphs">Matt 25:41,46</text>
<text x="881.4" y="212" font-size="8.42" fill="#141414" stroke="#141414" stroke-width="0.3" textLength="33.66" lengthAdjust="spacingAndGlyphs">Rom 2:8,9</text>
<text x="881.4" y="221.8" font-size="8.42" fill="#141414" stroke="#141414" stroke-width="0.3" textLength="41.5" lengthAdjust="spacingAndGlyphs">Rom 6:16,23</text>
<text x="881.4" y="232" font-size="8.42" fill="#141414" stroke="#141414" stroke-width="0.3" textLength="45.03" lengthAdjust="spacingAndGlyphs">Prov 11:18,20</text>
<text x="881.4" y="241.9" font-size="8.42" fill="#141414" stroke="#141414" stroke-width="0.3" textLength="35.62" lengthAdjust="spacingAndGlyphs">Rom 12:19</text>
<text x="881.4" y="251.7" font-size="8.42" fill="#141414" stroke="#141414" stroke-width="0.3" textLength="37.2" lengthAdjust="spacingAndGlyphs">2Pet 2:6-13</text>
<text x="881.4" y="261.8" font-size="8.42" fill="#141414" stroke="#141414" stroke-width="0.3" textLength="36.41" lengthAdjust="spacingAndGlyphs">Mark 16:16</text>
<text x="881.4" y="271.9" font-size="8.42" fill="#141414" stroke="#141414" stroke-width="0.3" textLength="25.44" lengthAdjust="spacingAndGlyphs">Heb 6:8</text>
<text x="881.4" y="282.1" font-size="8.42" fill="#141414" stroke="#141414" stroke-width="0.3" textLength="32.88" lengthAdjust="spacingAndGlyphs">John 3:18</text>
<text x="882.7" y="321.87" font-size="8.64" fill="#141414" stroke="#141414" stroke-width="0.3" textLength="48.5" lengthAdjust="spacingAndGlyphs">Psa 37:10,20,38</text>
<text x="882.7" y="332.07" font-size="8.64" fill="#141414" stroke="#141414" stroke-width="0.3" textLength="33" lengthAdjust="spacingAndGlyphs">Prov 11:31</text>
<text x="882.7" y="342.17" font-size="8.64" fill="#141414" stroke="#141414" stroke-width="0.3" textLength="29.8" lengthAdjust="spacingAndGlyphs">Isa 28-31</text>
<text x="884" y="352.27" font-size="8.64" fill="#141414" stroke="#141414" stroke-width="0.3" textLength="29" lengthAdjust="spacingAndGlyphs">1Tim 5:24</text>
<text x="895.1" y="425.38" font-size="6.91" fill="#141414" stroke="#141414" stroke-width="0.24" textLength="24.48" lengthAdjust="spacingAndGlyphs">Rev 20:14</text>
<text x="895.1" y="432.48" font-size="6.91" fill="#141414" stroke="#141414" stroke-width="0.24" textLength="21.56" lengthAdjust="spacingAndGlyphs">Rev 21:8</text>
<text x="895.1" y="440.08" font-size="6.91" fill="#141414" stroke="#141414" stroke-width="0.24" textLength="21.56" lengthAdjust="spacingAndGlyphs">Rev 20:6</text>
<text x="895.1" y="447.68" font-size="6.91" fill="#141414" stroke="#141414" stroke-width="0.24" textLength="21.27" lengthAdjust="spacingAndGlyphs">Rev 2:11</text>
<text x="895.1" y="455.38" font-size="6.91" fill="#141414" stroke="#141414" stroke-width="0.24" textLength="19.52" lengthAdjust="spacingAndGlyphs">Jude 12</text>
<text x="884" y="473.5" font-size="11.2" fill="#141414" stroke="#141414" stroke-width="0.25" textLength="47.7" lengthAdjust="spacingAndGlyphs">2nd Death</text>
<text x="946.8" y="187.02" font-size="9.07" fill="#141414" stroke="#141414" stroke-width="0.32" textLength="36.18" lengthAdjust="spacingAndGlyphs">Rev 21:1-7</text>
<text x="946.8" y="197.62" font-size="9.07" fill="#141414" stroke="#141414" stroke-width="0.32" textLength="44.23" lengthAdjust="spacingAndGlyphs">Rev 21:10-27</text>
<text x="946.8" y="207.72" font-size="9.07" fill="#141414" stroke="#141414" stroke-width="0.32" textLength="36.18" lengthAdjust="spacingAndGlyphs">Rev 22:3-5</text>
<text x="946.8" y="218.42" font-size="9.07" fill="#141414" stroke="#141414" stroke-width="0.32" textLength="41.02" lengthAdjust="spacingAndGlyphs">Isa 60:19-21</text>
<text x="946.8" y="228.52" font-size="9.07" fill="#141414" stroke="#141414" stroke-width="0.32" textLength="30.56" lengthAdjust="spacingAndGlyphs">Isa 66:22</text>
<text x="946.8" y="239.02" font-size="9.07" fill="#141414" stroke="#141414" stroke-width="0.32" textLength="30.56" lengthAdjust="spacingAndGlyphs">Isa 65:17</text>
<text x="946.8" y="249.52" font-size="9.07" fill="#141414" stroke="#141414" stroke-width="0.32" textLength="27.33" lengthAdjust="spacingAndGlyphs">Matt 5:5</text>
<text x="946.8" y="260.12" font-size="9.07" fill="#141414" stroke="#141414" stroke-width="0.32" textLength="32.56" lengthAdjust="spacingAndGlyphs">Rom 4:13</text>
<text x="944.2" y="320.05" font-size="7.99" fill="#141414" stroke="#141414" stroke-width="0.28" textLength="27.98" lengthAdjust="spacingAndGlyphs">Rom 4:13</text>
<text x="944.2" y="329.35" font-size="7.99" fill="#141414" stroke="#141414" stroke-width="0.28" textLength="23.49" lengthAdjust="spacingAndGlyphs">Matt 5:5</text>
<text x="944.2" y="338.55" font-size="7.99" fill="#141414" stroke="#141414" stroke-width="0.28" textLength="11.06" lengthAdjust="spacingAndGlyphs">Psa</text>
<text x="944.2" y="347.75" font-size="7.99" fill="#141414" stroke="#141414" stroke-width="0.28" textLength="38.8" lengthAdjust="spacingAndGlyphs">37:11,22,29</text>
<text x="944.2" y="356.85" font-size="7.99" fill="#141414" stroke="#141414" stroke-width="0.28" textLength="34.55" lengthAdjust="spacingAndGlyphs">Heb 11:9-16</text>
<text x="944.2" y="365.55" font-size="7.99" fill="#141414" stroke="#141414" stroke-width="0.28" textLength="29.37" lengthAdjust="spacingAndGlyphs">Heb 12:14</text>
<text x="937.4" y="476.3" font-size="7.56" fill="#141414" stroke="#141414" stroke-width="0.27" textLength="23.6" lengthAdjust="spacingAndGlyphs">Rev 21:4</text>
<text x="976.2" y="476.3" font-size="7.56" fill="#141414" stroke="#141414" stroke-width="0.27" textLength="32.6" lengthAdjust="spacingAndGlyphs">Matt 22:30</text>
<text x="952.6" y="499.7" font-size="11.2" fill="#141414" stroke="#141414" stroke-width="0.25" textLength="41.4" lengthAdjust="spacingAndGlyphs">No Death</text>
<text x="75" y="473.6" font-size="10.2" fill="#fff6ee" stroke="#fff6ee" stroke-width="0.25" textLength="44.5" lengthAdjust="spacingAndGlyphs">Righteous</text>
<text x="107.8" y="485.6" font-size="10.2" fill="#f4fff2" stroke="#f4fff2" stroke-width="0.25" textLength="30.5" lengthAdjust="spacingAndGlyphs">Wicked</text>
<text x="167.9" y="505.2" font-size="15" fill="#ffffff" style="font-weight:normal" stroke="#ffffff" stroke-width="0.9" textLength="36.1" lengthAdjust="spacingAndGlyphs">Death</text>
<text x="270" y="505.2" font-size="15" fill="#ffffff" style="font-weight:normal" stroke="#ffffff" stroke-width="0.9" textLength="36.2" lengthAdjust="spacingAndGlyphs">Grave</text>
<text x="379.8" y="505.2" font-size="15" fill="#ffffff" style="font-weight:normal" stroke="#ffffff" stroke-width="0.9" textLength="16.5" lengthAdjust="spacingAndGlyphs">Pit</text>
<text x="459" y="505.2" font-size="15" fill="#ffffff" style="font-weight:normal" stroke="#ffffff" stroke-width="0.9" textLength="33.8" lengthAdjust="spacingAndGlyphs">Sheol</text>
<text x="547.4" y="505.2" font-size="15" fill="#ffffff" style="font-weight:normal" stroke="#ffffff" stroke-width="0.9" textLength="35.5" lengthAdjust="spacingAndGlyphs">Hades</text>
<text x="648.9" y="505.2" font-size="15" fill="#ffffff" style="font-weight:normal" stroke="#ffffff" stroke-width="0.9" textLength="22.8" lengthAdjust="spacingAndGlyphs">Hell</text>
<text x="759.8" y="505.2" font-size="15" fill="#ffffff" style="font-weight:normal" stroke="#ffffff" stroke-width="0.9" textLength="69.3" lengthAdjust="spacingAndGlyphs">Corruption</text>
<text x="894.5" y="505.2" font-size="15" fill="#ffffff" style="font-weight:normal" stroke="#ffffff" stroke-width="0.9" textLength="27" lengthAdjust="spacingAndGlyphs">Dust</text>
</svg>
</body></html>
